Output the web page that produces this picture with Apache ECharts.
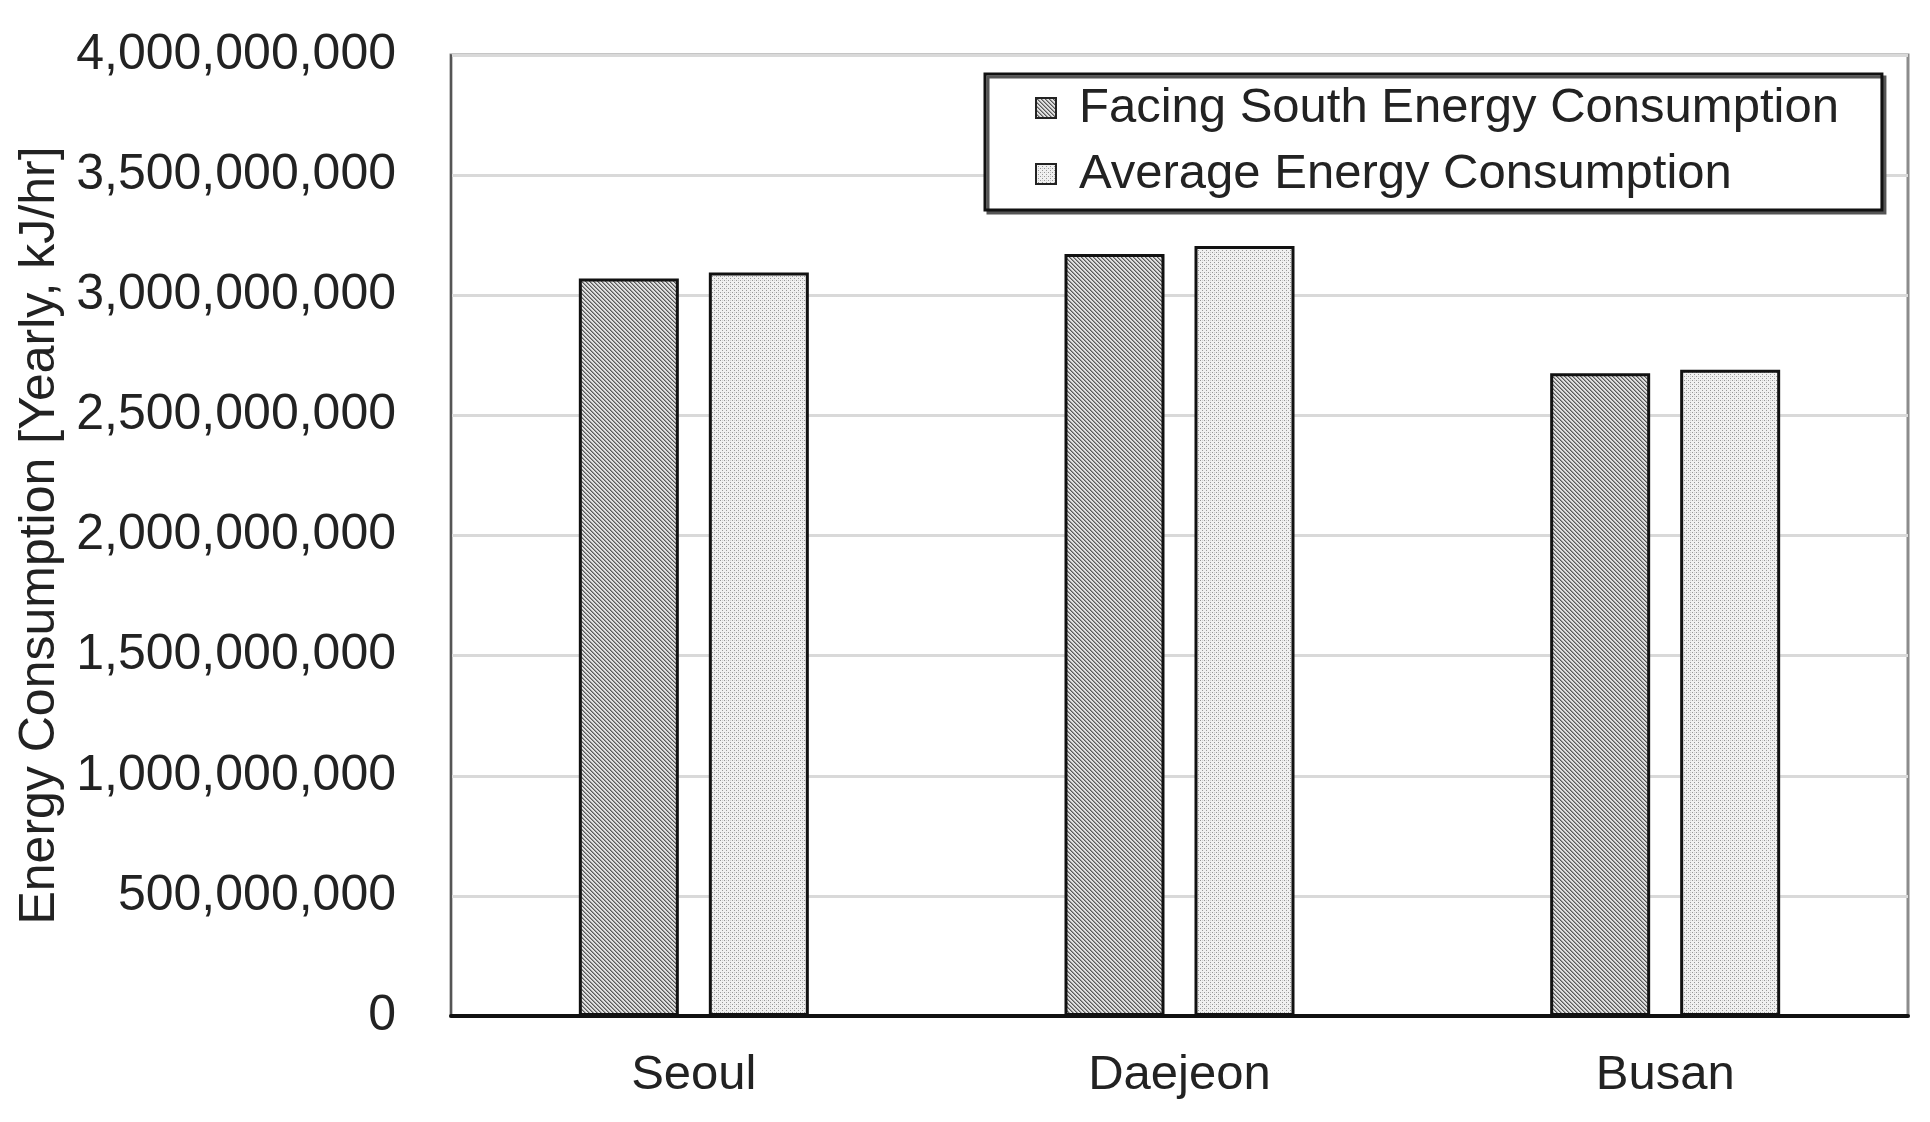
<!DOCTYPE html>
<html>
<head>
<meta charset="utf-8">
<style>
html,body{margin:0;padding:0;background:#fff;}
#chart{width:1930px;height:1122px;}
</style>
<script src="https://cdn.jsdelivr.net/npm/echarts@6/dist/echarts.min.js"></script>
</head>
<body>
<div id="chart"></div>
<script>
const categories = ['Seoul', 'Daejeon', 'Busan'];
const facingSouth = [3070000000, 3172000000, 2675000000];
const average = [3095000000, 3205000000, 2690000000];
const seriesNames = ['Facing South Energy Consumption', 'Average Energy Consumption'];
const yAxisTitle = 'Energy Consumption [Yearly, kJ/hr]';

function makeHatch() {
  const c = document.createElement('canvas');
  c.width = 4; c.height = 4;
  const g = c.getContext('2d');
  g.fillStyle = '#e0e0e0';
  g.fillRect(0, 0, 4, 4);
  for (let i = 0; i < 4; i++) {
    g.fillStyle = '#5a5a5a';
    g.fillRect(i, i, 1, 1);
    g.fillStyle = '#9a9a9a';
    g.fillRect((i + 1) % 4, i, 1, 1);
  }
  return c;
}
function makeDots() {
  const c = document.createElement('canvas');
  c.width = 4; c.height = 4;
  const g = c.getContext('2d');
  g.fillStyle = '#f0f0f0';
  g.fillRect(0, 0, 4, 4);
  g.fillStyle = '#969696';
  g.fillRect(0, 0, 1, 1);
  g.fillRect(2, 2, 1, 1);
  g.fillStyle = '#d0d0d0';
  g.fillRect(2, 0, 1, 1);
  return c;
}

const chart = echarts.init(document.getElementById('chart'), null, {renderer: 'canvas'});
const font = 'Liberation Sans, Arial, sans-serif';
chart.setOption({
  animation: false,
  backgroundColor: '#ffffff',
  textStyle: {fontFamily: font},
  grid: {
    left: 451, right: 22, top: 55, bottom: 106,
    show: true, borderColor: '#8c8c8c', borderWidth: 3, backgroundColor: '#fff'
  },
  legend: {
    orient: 'vertical',
    left: 985, top: 74,
    padding: [6, 43, 8, 50],
    itemGap: 10,
    itemWidth: 20, itemHeight: 20,
    icon: 'rect',
    backgroundColor: '#fff',
    borderColor: '#111', borderWidth: 3,
    shadowColor: '#555', shadowBlur: 0, shadowOffsetX: 3, shadowOffsetY: 3,
    itemStyle: {borderWidth: 2, borderColor: '#222'},
    textStyle: {fontSize: 49, color: '#222', fontFamily: font, lineHeight: 56, padding: [0, 0, 0, 18]},
    data: seriesNames
  },
  xAxis: {
    type: 'category',
    data: categories,
    axisLine: {show: true, lineStyle: {color: '#111', width: 4}},
    axisTick: {show: false},
    axisLabel: {fontSize: 49, color: '#222', margin: 35, fontFamily: font}
  },
  yAxis: {
    type: 'value',
    min: 0, max: 4000000000, interval: 500000000,
    name: yAxisTitle,
    nameLocation: 'middle',
    nameGap: 378,
    nameTextStyle: {fontSize: 50, color: '#222', fontFamily: font},
    axisLine: {show: true, lineStyle: {color: '#555', width: 2}},
    axisTick: {show: false},
    axisLabel: {
      fontSize: 50, color: '#222', margin: 55, fontFamily: font,
      formatter: v => v.toLocaleString('en-US')
    },
    splitLine: {show: true, lineStyle: {color: '#d9d9d9', width: 3}}
  },
  series: [
    {
      name: seriesNames[0], type: 'bar', data: facingSouth,
      barWidth: 100, barGap: '30%',
      itemStyle: {color: {image: makeHatch(), repeat: 'repeat'}, borderColor: '#111', borderWidth: 3}
    },
    {
      name: seriesNames[1], type: 'bar', data: average,
      barWidth: 100,
      itemStyle: {color: {image: makeDots(), repeat: 'repeat'}, borderColor: '#111', borderWidth: 3}
    }
  ]
});
</script>
</body>
</html>
